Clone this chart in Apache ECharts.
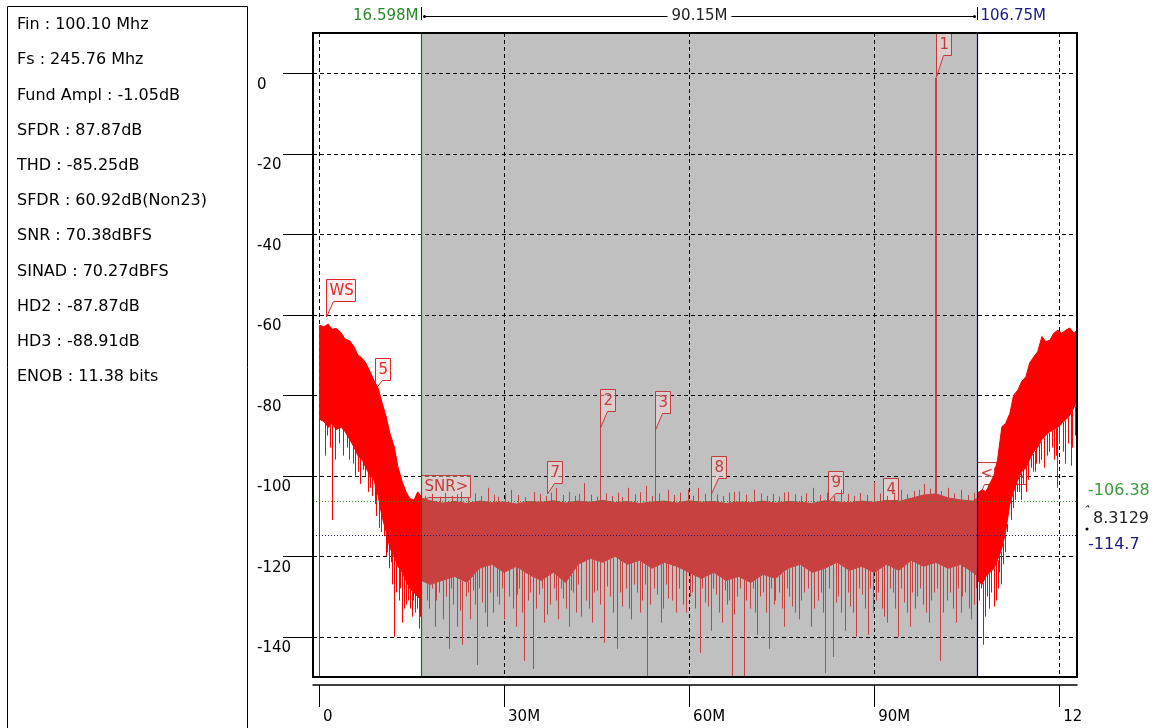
<!DOCTYPE html>
<html lang="en">
<head>
<meta charset="UTF-8">
<title>FFT spectrum</title>
<script src="https://cdn.jsdelivr.net/npm/echarts@6/dist/echarts.min.js"></script>
<style>
  html, body { margin: 0; padding: 0; background: #fff; }
  #main { width: 1156px; height: 728px; }
</style>
</head>
<body>
<div id="main"></div>
<script>
// ---- data ----
var infoLines = ['Fin : 100.10 Mhz', 'Fs : 245.76 Mhz', 'Fund Ampl : -1.05dB', 'SFDR : 87.87dB',
  'THD : -85.25dB', 'SFDR : 60.92dB(Non23)', 'SNR : 70.38dBFS', 'SINAD : 70.27dBFS',
  'HD2 : -87.87dB', 'HD3 : -88.91dB', 'ENOB : 11.38 bits'];

var bandStart = 16.598, bandEnd = 106.75;
var bandLabels = ['16.598M', '90.15M', '106.75M'];
var floorSignal = -106.38, floorNoise = -114.7;
var floorLabels = ['-106.38', '8.3129', '-114.7'];

var xMin = -0.97, xMax = 122.88, yMin = -150, yMax = 10;
var yTicks = [0, -20, -40, -60, -80, -100, -120, -140];
var xTicks = [0, 30, 60, 90, 120];
var xTickLabels = ['0', '30M', '60M', '90M', '12'];

// below the band start (MHz / dB)
var leftFreq = [0.1, 0.8, 1.5, 2.1, 2.8, 3.6, 4.2, 5.0, 5.7, 6.3, 7.0, 7.6, 8.3, 8.9, 9.6, 10.2, 10.9, 11.5, 12.2, 12.8, 13.5, 14.1, 14.7, 15.4, 16.0, 16.6];
var leftUpper = [-62.6, -63, -62.3, -63.6, -63.4, -64.5, -66, -66.5, -68, -70, -70.8, -72, -74.2, -76.3, -78.3, -81.7, -85.4, -89.5, -92.8, -97.8, -101.5, -104, -105.6, -106.1, -104, -105.2];
var leftLower = [-86, -86.5, -88, -87, -88.5, -88, -89, -91, -93, -95, -96, -98, -100, -101, -105, -110, -114, -118, -120, -122.5, -124, -126, -128, -129, -130, -131];
var leftDips = [[0.05, -150], [0.97, -95], [2.1, -111], [2.6, -96], [3.2, -92], [4.5, -93], [5.5, -97], [6.3, -99],
  [7.1, -98.5], [8.6, -105], [9.7, -113], [10.5, -115], [11.0, -119], [11.7, -121.5], [12.2, -140], [13.0, -131],
  [13.5, -136.5], [14.1, -132], [14.7, -133], [15.6, -134], [16.2, -138],
  [1.3, -90], [1.8, -93], [3.9, -95], [4.9, -96], [5.9, -100], [6.7, -102], [7.4, -100], [7.9, -104], [8.2, -103],
  [9.0, -107], [9.3, -110], [10.0, -114], [10.8, -120], [11.3, -123], [11.9, -127], [12.5, -129], [13.2, -128],
  [13.8, -133], [14.4, -131], [15.0, -135], [15.3, -131], [15.9, -133], [16.4, -135]];

// inside the analysis band
var midFreq = [16.6, 18, 20, 22, 24, 26, 28, 30, 32, 34, 36, 38, 40, 42, 44, 46, 48, 50, 52, 54, 56, 58, 60, 62, 64, 66, 68, 70,
  72, 74, 76, 78, 80, 82, 84, 86, 88, 90, 92, 94, 96, 98, 100, 102, 104, 106, 106.75];
var midUpper = [-105.5, -106.2, -106.8, -106.4, -106.9, -106.3, -106.7, -106.5, -107, -106.4, -106.6, -106.2, -106.8, -106.3,
  -106.6, -106.1, -106.7, -106.4, -106.9, -106.5, -106.3, -106.8, -106.2, -106.6, -106.4, -106.9, -106.5, -106.7, -106.3,
  -106.8, -106.4, -106.6, -106.9, -106.2, -106.5, -106.7, -106.3, -106.6, -106.1, -106.4, -105.6, -104.8, -104.5, -105.5,
  -106, -106.3, -105.5];
var midLower = [-126, -127, -126, -125, -126.5, -123, -122, -124, -122.5, -124.5, -126, -124, -126.5, -122, -120.5, -121.5,
  -120, -122, -121, -123, -121.5, -122.5, -124, -125.5, -124, -126, -125, -126.5, -124.5, -125.5, -123, -122, -124, -123,
  -121.5, -123.5, -122.5, -124, -122, -123.5, -121, -122.5, -121.5, -123, -122, -124, -125];
var midDips = [[18.8, -137.5], [20.1, -135.7], [21.1, -143], [22.3, -137.5], [23.2, -142], [24.5, -135.7], [25.6, -147],
  [27.2, -137.5], [28.2, -134], [30.0, -135.7], [31.9, -137.5], [33.2, -146], [34.7, -148], [36.5, -136.5], [38.7, -135.7],
  [40.5, -137.5], [42.5, -135], [44.2, -136.5], [46.2, -141.5], [48.3, -143], [50.6, -135.7], [53.2, -150], [55.4, -136.5],
  [57.9, -134], [61.7, -144], [63.5, -138.5], [65.4, -136.5], [66.9, -150], [68.9, -150], [71.0, -139.5], [72.9, -143],
  [75.4, -137.5], [77.8, -135.7], [79.7, -137.5], [82.0, -149], [83.3, -145], [85.3, -138.5], [87.0, -140], [89.0, -139.5],
  [92.1, -136.5], [93.9, -140], [95.8, -137.5], [98.9, -136.5], [100.6, -146], [103.2, -136.5], [105.7, -135.7],
  [17.5, -131], [19.5, -129], [21.7, -132], [23.8, -130], [25.0, -128.5], [26.5, -131.5], [27.8, -129], [29.2, -132],
  [30.8, -130], [32.5, -128], [33.9, -131], [35.6, -129.5], [37.4, -132], [38.1, -128], [39.6, -130.5], [41.2, -129],
  [43.3, -131], [45.0, -128.5], [47.1, -130], [49.2, -132.5], [51.5, -129], [52.4, -131], [54.3, -128], [56.6, -130.5],
  [59.0, -132], [60.5, -129], [62.6, -131.5], [64.4, -129.5], [66.1, -132], [67.8, -130], [69.8, -133], [72.0, -129],
  [74.0, -131], [76.6, -132.5], [78.7, -129], [80.9, -131], [84.2, -130], [86.1, -132.5], [88.1, -129.5], [90.3, -131],
  [91.2, -133], [93.0, -129], [94.9, -131.5], [97.0, -130], [97.9, -132], [99.7, -129], [101.8, -131], [104.3, -130], [106.2, -132],
  [17.9, -133], [18.3, -128], [19.0, -131], [20.6, -130], [21.4, -128], [22.8, -133.5], [24.1, -129], [25.3, -132],
  [26.0, -128], [26.9, -134], [28.8, -130], [29.6, -128], [31.4, -133], [32.1, -129.5], [32.9, -134], [34.2, -129],
  [35.2, -133], [36.1, -128], [37.0, -134.5], [38.4, -131], [39.2, -128], [40.1, -133], [40.9, -128.5], [41.7, -134],
  [42.0, -127], [43.8, -133], [44.6, -129], [45.5, -132], [46.7, -127.5], [47.6, -134], [48.8, -129], [49.7, -128],
  [50.2, -133], [51.0, -127], [52.0, -134], [52.8, -127], [53.7, -132], [54.8, -129.5], [55.8, -133], [56.2, -127],
  [57.2, -131], [58.4, -128], [59.5, -134], [60.1, -130], [61.0, -133], [62.1, -128], [63.1, -132.5], [63.9, -128],
  [64.8, -134], [65.8, -128.5], [66.5, -131], [67.3, -134.5], [68.3, -128], [69.3, -131], [70.3, -128], [70.7, -134],
  [71.5, -130], [72.4, -134], [73.3, -128], [73.7, -132], [74.6, -129], [75.0, -133], [75.9, -128], [76.2, -130],
  [77.2, -134], [78.2, -131], [79.2, -128], [80.3, -133], [81.4, -129], [81.7, -134], [82.6, -128], [83.8, -131.5],
  [84.7, -134], [85.7, -129], [86.5, -134], [87.5, -128], [88.5, -133], [89.4, -128], [89.8, -134], [90.7, -129],
  [91.6, -135], [92.5, -128], [93.4, -133], [94.4, -128], [95.3, -134], [96.2, -129], [96.6, -133], [97.5, -128],
  [98.4, -134], [99.2, -131], [100.2, -128], [101.2, -134], [102.3, -129], [102.7, -133], [103.6, -128], [104.0, -134],
  [104.8, -129], [105.3, -133], [106.5, -128]];
var midGrass = [[23.0, -104], [27.4, -103], [31.1, -103.5], [34.8, -104], [38.4, -103], [43.0, -101.8], [50.1, -103],
  [53.0, -102.5], [56.6, -103.5], [59.8, -103.5], [61.4, -103], [67.3, -104], [68.1, -103.9], [70.5, -103.5], [71.6, -104.4],
  [75.4, -104.2], [76.0, -104], [80.1, -103], [84.6, -103.5], [90.0, -101.5], [94.3, -103.5], [98.1, -102], [101.9, -103],
  [104.1, -103.5], [17.2, -105], [18.4, -104.5], [19.6, -105.2], [20.5, -104.2], [21.5, -105], [22.4, -104.6], [24.1, -105.3],
  [25.3, -104.4], [26.2, -105], [28.3, -104.7], [29.1, -105.2], [30.2, -104.3], [32.2, -104.8], [33.4, -105.3], [35.9, -104.5],
  [36.8, -105], [37.6, -104.2], [39.5, -104.8], [40.6, -104], [41.5, -105], [42.2, -104.5], [44.1, -104.7], [45.0, -105.2],
  [46.6, -104.4], [47.5, -105], [48.4, -104.2], [49.2, -105.3], [51.2, -104.6], [52.1, -104.1], [54.0, -105], [55.2, -104.4],
  [57.5, -104.8], [58.6, -104.2], [60.6, -105], [62.5, -104.5], [63.6, -104.3], [64.6, -104.6], [65.5, -105], [66.4, -104.2],
  [69.2, -104.7], [72.7, -105], [73.6, -104.5], [74.5, -105.2], [77.1, -104.6], [78.2, -105], [79.0, -104.3], [81.2, -104.8],
  [82.3, -104.2], [83.5, -105], [85.7, -104.5], [86.8, -105], [87.7, -104.3], [88.9, -104.8], [91.0, -104.4], [92.1, -105],
  [93.2, -104.2], [95.3, -104.6], [96.4, -103.8], [97.3, -103.5], [99.0, -103.2], [100.8, -103.8], [102.9, -104.4],
  [105.2, -104.8], [106.2, -104.2]];

// above the band end
var rightFreq = [106.75, 107.5, 108.1, 108.8, 109.4, 110.0, 110.7, 111.3, 112.0, 112.6, 113.3, 113.9, 114.6, 115.2, 115.9,
  116.5, 117.2, 117.8, 118.5, 119.1, 119.8, 120.4, 121.1, 121.7, 122.4, 122.88];
var rightUpper = [-104.3, -103.5, -104, -101.8, -100, -96, -87.8, -87, -84.5, -80, -78.7, -76.6, -75.4, -72, -70.4, -69.2,
  -65.4, -66.7, -66.3, -64.6, -63.8, -64.6, -63.8, -63.3, -64.6, -63.8];
var rightLower = [-126, -127, -125, -124, -123, -121, -118, -114, -107, -104, -101, -99, -98, -96, -94, -93, -91, -90, -89,
  -88.5, -88, -87, -86, -85, -83, -82];
var rightDips = [[107.6, -142], [108.6, -133], [109.4, -132.5], [110.0, -128], [110.5, -127], [111.2, -119], [111.8, -109],
  [112.5, -108], [113.1, -104], [113.8, -106], [114.6, -104], [115.4, -98], [116.0, -99], [116.7, -97], [118.0, -95],
  [119.1, -96], [119.6, -103], [120.6, -94], [121.9, -97.5], [122.5, -90],
  [107.0, -131], [107.3, -128], [108.0, -135], [108.3, -130], [109.0, -129], [109.8, -131], [110.3, -124], [110.9, -122],
  [111.5, -114], [112.2, -111], [112.9, -106], [113.5, -104], [114.2, -102], [115.0, -101], [115.7, -99], [116.3, -97],
  [117.0, -96], [117.5, -98], [118.3, -94], [118.8, -93], [119.4, -95], [120.0, -92], [120.9, -97], [121.4, -92],
  [122.1, -93], [122.7, -95]];

// fundamental and harmonics
var toneFreq = [100.1, 45.56, 54.54];
var toneDb = [-1.05, -88.1, -88.6];

// marker callouts
var markerNames = ['WS', '5', '1', '2', '3', '7', '8', '9', '4', 'SNR>', '<SNR'];
var markerFreq = [1.1, 9.1, 100.1, 45.56, 54.54, 37.0, 63.5, 82.5, 91.4, 16.598, 106.75];
var markerDb = [-60.5, -78.5, -1.05, -88.1, -88.6, -104.5, -104.5, -106.4, -106.5, -106.38, -106.38];

// ---- styles ----
var FONT = 'DejaVu Sans';
var outerRed = '#ff0000', innerRed = '#c84040';
var markerLift = [16, 9, 22, 17, 17, 11, 16, 9, 2, 4, 17];

function interp(xs, ys, x) {
  if (x <= xs[0]) return ys[0];
  for (var i = 1; i < xs.length; i++) {
    if (x <= xs[i]) {
      var t = (x - xs[i - 1]) / (xs[i] - xs[i - 1]);
      return ys[i - 1] + t * (ys[i] - ys[i - 1]);
    }
  }
  return ys[ys.length - 1];
}
function regionColor(f) {
  return (f < bandStart || f > bandEnd) ? outerRed : innerRed;
}

var regions = [
  { freq: leftFreq, upper: leftUpper, lower: leftLower, color: outerRed },
  { freq: midFreq, upper: midUpper, lower: midLower, color: innerRed },
  { freq: rightFreq, upper: rightUpper, lower: rightLower, color: outerRed }
];

// vertical strokes: [freq, from, to, width]
var strokes = [];
leftDips.forEach(function (d) { strokes.push([d[0], interp(leftFreq, leftLower, d[0]), d[1], 1]); });
midDips.forEach(function (d) { strokes.push([d[0], interp(midFreq, midLower, d[0]), d[1], 1]); });
rightDips.forEach(function (d) { strokes.push([d[0], interp(rightFreq, rightLower, d[0]), d[1], 1]); });
midGrass.forEach(function (d) { strokes.push([d[0], interp(midFreq, midUpper, d[0]), d[1], 1]); });
toneFreq.forEach(function (f, i) { strokes.push([f, interp(midFreq, midLower, f), toneDb[i], i === 0 ? 2 : 1]); });

var gridItems = yTicks.map(function (v) { return ['y', v]; }).concat(xTicks.map(function (v) { return ['x', v]; }));

var measureCtx = document.createElement('canvas').getContext('2d');
function textWidth(s, size) {
  measureCtx.font = size + 'px "' + FONT + '"';
  return measureCtx.measureText(s).width;
}
function crisp(v) { return Math.round(v) + 0.5; }

var chart = echarts.init(document.getElementById('main'));

var option = {
  animation: false,
  backgroundColor: '#fff',
  grid: {
    left: 313, top: 33, right: 79, bottom: 51,
    show: true, borderColor: '#000', borderWidth: 2, backgroundColor: 'transparent',
    z: 10, outerBoundsMode: 'none'
  },
  xAxis: {
    type: 'value', min: xMin, max: xMax, offset: 8,
    axisLine: { show: true, onZero: false, lineStyle: { color: '#000', width: 1.5 } },
    axisTick: { show: true, length: 22, customValues: xTicks, lineStyle: { color: '#000', width: 1 } },
    axisLabel: {
      customValues: xTicks, margin: 25, align: 'left', padding: [0, 0, 0, 4],
      color: '#000', fontFamily: FONT, fontSize: 15,
      formatter: function (v) { return xTickLabels[xTicks.indexOf(v)]; }
    },
    splitLine: { show: false }
  },
  yAxis: {
    type: 'value', min: yMin, max: yMax,
    axisLine: { show: true, onZero: false, lineStyle: { color: '#000', width: 2 } },
    axisTick: { show: true, length: 30, customValues: yTicks, lineStyle: { color: '#000', width: 1 } },
    axisLabel: {
      customValues: yTicks, margin: 56, align: 'left', verticalAlign: 'top', padding: [4, 0, 0, 0],
      color: '#000', fontFamily: FONT, fontSize: 15
    },
    splitLine: { show: false }
  },
  series: [
    {
      // analysis band shading
      type: 'custom', z: 1, silent: true,
      data: [[bandStart, bandEnd]],
      renderItem: function (params, api) {
        var a = api.coord([bandStart, yMax]), b = api.coord([bandEnd, yMin]);
        return { type: 'rect', shape: { x: a[0], y: a[1], width: b[0] - a[0], height: b[1] - a[1] }, style: { fill: '#c0c0c0' } };
      }
    },
    {
      // dashed grid
      type: 'custom', z: 2, silent: true,
      data: gridItems.map(function (g, i) { return [i]; }),
      renderItem: function (params, api) {
        var g = gridItems[params.dataIndex], a, b;
        if (g[0] === 'y') {
          a = api.coord([xMin, g[1]]); b = api.coord([xMax, g[1]]);
          a[1] = b[1] = crisp(a[1]);
        } else {
          a = api.coord([g[1], yMax]); b = api.coord([g[1], yMin]);
          a[0] = b[0] = crisp(a[0]);
        }
        return { type: 'line', shape: { x1: a[0], y1: a[1], x2: b[0], y2: b[1] }, style: { stroke: '#000', lineWidth: 1, lineDash: [4, 3] } };
      }
    },
    {
      // marker callouts
      type: 'custom', z: 3, silent: true,
      data: markerFreq.map(function (f, i) { return [f, markerDb[i]]; }),
      renderItem: function (params, api) {
        var i = params.dataIndex;
        var p = api.coord([api.value(0), api.value(1)]);
        var ax = crisp(p[0]), ay = Math.round(p[1]);
        var name = markerNames[i];
        var w = Math.round(textWidth(name, 15)) + 5;
        var bot = ay - markerLift[i] + 0.5, top = bot - 22;
        var inner = regionColor(markerFreq[i]) === innerRed;
        var col = inner ? '#c23c3c' : '#e02828';
        return {
          type: 'group',
          children: [
            {
              type: 'polygon',
              shape: { points: [[ax, top], [ax + w, top], [ax + w, bot], [ax + Math.min(7, w - 3), bot], [ax, ay]] },
              style: { fill: 'rgba(255,225,225,0.45)', stroke: col, lineWidth: 1 }
            },
            {
              type: 'text',
              style: { x: ax + 3, y: top + 12, text: name, fill: col, font: '15px "' + FONT + '"', verticalAlign: 'middle' }
            }
          ]
        };
      }
    },
    {
      // dense noise floor
      type: 'custom', z: 4, silent: true,
      data: regions.map(function (r, i) { return [r.freq[0], r.upper[0]]; }),
      renderItem: function (params, api) {
        var r = regions[params.dataIndex];
        var pts = [];
        r.freq.forEach(function (f, k) { pts.push(api.coord([f, r.upper[k]])); });
        for (var k = r.freq.length - 1; k >= 0; k--) pts.push(api.coord([r.freq[k], r.lower[k]]));
        return { type: 'polygon', shape: { points: pts }, style: { fill: r.color, stroke: r.color, lineWidth: 1 } };
      }
    },
    {
      // individual bins: dips, grass and tones
      type: 'custom', z: 4, silent: true,
      data: strokes,
      renderItem: function (params, api) {
        var s = strokes[params.dataIndex];
        var a = api.coord([s[0], s[1]]), b = api.coord([s[0], s[2]]);
        var x = s[3] > 1 ? Math.round(a[0]) : crisp(a[0]);
        return { type: 'line', shape: { x1: x, y1: a[1], x2: x, y2: b[1] }, style: { stroke: regionColor(s[0]), lineWidth: s[3] } };
      }
    },
    {
      // band edges and noise-floor levels
      type: 'custom', z: 5, silent: true,
      data: [[0], [1], [2], [3]],
      renderItem: function (params, api) {
        var i = params.dataIndex, a, b, st;
        if (i < 2) {
          var f = i === 0 ? bandStart : bandEnd;
          a = api.coord([f, yMax]); b = api.coord([f, yMin]);
          a[0] = b[0] = crisp(a[0]);
          st = { stroke: i === 0 ? '#008000' : '#000080', lineWidth: 1.2 };
        } else {
          var v = i === 2 ? floorSignal : floorNoise;
          a = api.coord([xMin, v]); b = api.coord([xMax, v]);
          a[1] = b[1] = crisp(a[1]);
          st = { stroke: i === 2 ? '#2f8f2f' : '#1a1a80', lineWidth: 1, lineDash: [1, 2] };
        }
        return { type: 'line', shape: { x1: a[0], y1: a[1], x2: b[0], y2: b[1] }, style: st };
      }
    }
  ]
};

chart.setOption(option);

// annotations outside the plot, positioned from the axes
var pS = chart.convertToPixel({ gridIndex: 0 }, [bandStart, yMax]);
var pE = chart.convertToPixel({ gridIndex: 0 }, [bandEnd, yMax]);
var pR = chart.convertToPixel({ gridIndex: 0 }, [xMax, floorSignal]);
var pN = chart.convertToPixel({ gridIndex: 0 }, [xMax, floorNoise]);
var xs = crisp(pS[0]), xe = crisp(pE[0]);
var topY = 16.5;
var midX = (xs + xe) / 2;
var midW = textWidth(bandLabels[1], 15);
var labX = pR[0] + 11;

var graphics = [
  { type: 'rect', shape: { x: 7.5, y: 6.5, width: 240, height: 760 }, style: { fill: 'none', stroke: '#000', lineWidth: 1 } }
];
infoLines.forEach(function (s, i) {
  graphics.push({ type: 'text', x: 17, y: 25 + i * 35.2, style: { text: s, fill: '#000', font: '16px "' + FONT + '"', verticalAlign: 'middle' } });
});
graphics.push(
  { type: 'text', x: xs - 3, y: topY, style: { text: bandLabels[0], fill: '#2a8a2a', font: '15px "' + FONT + '"', align: 'right', verticalAlign: 'middle' } },
  { type: 'line', shape: { x1: xs, y1: 7, x2: xs, y2: 20 }, style: { stroke: '#000', lineWidth: 1 } },
  { type: 'line', shape: { x1: xs + 2, y1: topY, x2: midX - midW / 2 - 4, y2: topY }, style: { stroke: '#000', lineWidth: 1 } },
  { type: 'circle', shape: { cx: xs + 3, cy: topY, r: 1.5 }, style: { fill: '#000' } },
  { type: 'text', x: midX, y: topY, style: { text: bandLabels[1], fill: '#222', font: '15px "' + FONT + '"', align: 'center', verticalAlign: 'middle' } },
  { type: 'line', shape: { x1: midX + midW / 2 + 4, y1: topY, x2: xe - 2, y2: topY }, style: { stroke: '#000', lineWidth: 1 } },
  { type: 'circle', shape: { cx: xe - 3, cy: topY, r: 1.5 }, style: { fill: '#000' } },
  { type: 'line', shape: { x1: xe, y1: 7, x2: xe, y2: 20 }, style: { stroke: '#000', lineWidth: 1 } },
  { type: 'text', x: xe + 3, y: topY, style: { text: bandLabels[2], fill: '#1a1a80', font: '15px "' + FONT + '"', verticalAlign: 'middle' } },
  { type: 'text', x: labX, y: pR[1] - 11, style: { text: floorLabels[0], fill: '#3a9a3a', font: '16px "' + FONT + '"', verticalAlign: 'middle' } },
  { type: 'text', x: labX + 5, y: (pR[1] + pN[1]) / 2 + 1, style: { text: floorLabels[1], fill: '#222', font: '16px "' + FONT + '"', verticalAlign: 'middle' } },
  { type: 'text', x: labX, y: pN[1] + 10, style: { text: floorLabels[2], fill: '#1a1a80', font: '16px "' + FONT + '"', verticalAlign: 'middle' } },
  { type: 'polyline', shape: { points: [[labX - 2, pR[1] + 6], [labX, pR[1] + 4], [labX + 1, pR[1] + 6]] }, style: { stroke: '#000', lineWidth: 1, fill: 'none' } },
  { type: 'circle', shape: { cx: labX - 1, cy: pN[1] - 6, r: 1.5 }, style: { fill: '#000' } }
);
chart.setOption({ graphic: graphics });
</script>
</body>
</html>
